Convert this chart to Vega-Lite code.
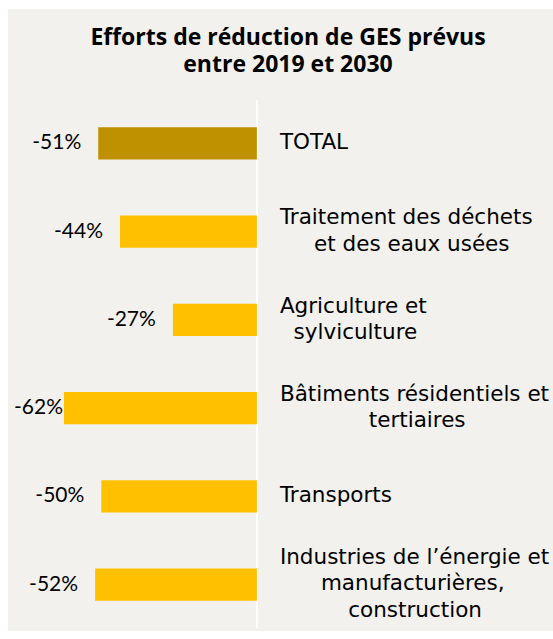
{
  "$schema": "https://vega.github.io/schema/vega-lite/v6.json",
  "autosize": "none",
  "width": 545,
  "height": 622,
  "padding": {"left": 8, "top": 9, "right": 0, "bottom": 8},
  "background": "#ffffff",
  "config": {"view": {"fill": "#f2f1ed", "stroke": null}},
  "title": {
    "text": ["Efforts de réduction de GES prévus", "entre 2019 et 2030"],
    "font": "Open Sans",
    "fontSize": 23,
    "fontWeight": "bold",
    "color": "#000000",
    "anchor": "middle",
    "frame": "group",
    "baseline": "alphabetic",
    "offset": -86,
    "lineHeight": 26.6,
    "dx": 7.5
  },
  "data": {
    "values": [
      {"secteur": "TOTAL", "lignes": ["TOTAL"], "valeur": -51, "etiquette": "-51%", "type": "total"},
      {"secteur": "Traitement des déchets et des eaux usées", "lignes": ["Traitement des déchets", "\u200b\u00a0\u00a0\u00a0\u00a0\u00a0et des eaux usées"], "valeur": -44, "etiquette": "-44%", "type": "secteur"},
      {"secteur": "Agriculture et sylviculture", "lignes": ["Agriculture et", "\u200b\u00a0\u00a0sylviculture"], "valeur": -27, "etiquette": "-27%", "type": "secteur"},
      {"secteur": "Bâtiments résidentiels et tertiaires", "lignes": ["Bâtiments résidentiels et", "\u200b\u00a0\u00a0\u00a0\u00a0\u00a0\u00a0\u00a0\u00a0\u00a0\u00a0\u00a0\u00a0\u00a0tertiaires"], "valeur": -62, "etiquette": "-62%", "type": "secteur"},
      {"secteur": "Transports", "lignes": ["Transports"], "valeur": -50, "etiquette": "-50%", "type": "secteur"},
      {"secteur": "Industries de l’énergie et manufacturières, construction", "lignes": ["Industries de l’énergie et", "\u200b\u00a0\u00a0\u00a0\u00a0\u00a0\u00a0manufacturières,", "\u200b\u00a0\u00a0\u00a0\u00a0\u00a0\u00a0\u00a0\u00a0\u00a0\u00a0construction"], "valeur": -52, "etiquette": "-52%", "type": "secteur"}
    ]
  },
  "layer": [
    {
      "data": {"values": [{}]},
      "mark": {"type": "rule", "color": "#ffffff", "strokeWidth": 2},
      "encoding": {
        "x": {"datum": 0, "type": "quantitative", "scale": {"domain": [-80, 95.18], "nice": false, "zero": false}, "axis": null},
        "y": {"datum": 0, "type": "quantitative", "scale": {"domain": [0, 1], "range": [91, 619], "nice": false}, "axis": null},
        "y2": {"datum": 1}
      }
    },
    {
      "encoding": {
        "y": {"field": "secteur", "type": "nominal", "sort": null, "axis": null,
              "scale": {"range": [91, 619], "paddingInner": 0.636, "paddingOuter": 0.31}}
      },
      "layer": [
        {
          "mark": {"type": "bar"},
          "encoding": {
            "x": {"field": "valeur", "type": "quantitative"},
            "color": {"field": "type", "type": "nominal", "legend": null,
                      "scale": {"domain": ["total", "secteur"], "range": ["#bf9000", "#ffc000"]}}
          }
        },
        {
          "transform": [{"filter": "datum.valeur > -60"}],
          "mark": {"type": "text", "align": "right", "baseline": "middle", "dx": -17, "font": "Lato", "fontSize": 21, "color": "#000000"},
          "encoding": {
            "x": {"field": "valeur", "type": "quantitative"},
            "text": {"field": "etiquette"}
          }
        },
        {
          "transform": [{"filter": "datum.valeur <= -60"}],
          "mark": {"type": "text", "align": "right", "baseline": "middle", "dx": -1, "font": "Lato", "fontSize": 21, "color": "#000000"},
          "encoding": {
            "x": {"field": "valeur", "type": "quantitative"},
            "text": {"field": "etiquette"}
          }
        },
        {
          "transform": [{"filter": "length(datum.lignes) == 1"}],
          "mark": {"type": "text", "align": "left", "baseline": "middle", "dx": 23, "font": "DejaVu Sans", "fontSize": 21.5, "lineHeight": 26.5, "color": "#000000"},
          "encoding": {
            "x": {"datum": 0, "type": "quantitative"},
            "text": {"field": "lignes"}
          }
        },
        {
          "transform": [{"filter": "length(datum.lignes) == 2"}],
          "mark": {"type": "text", "align": "left", "baseline": "middle", "dx": 23, "dy": -13.25, "font": "DejaVu Sans", "fontSize": 21.5, "lineHeight": 26.5, "color": "#000000"},
          "encoding": {
            "x": {"datum": 0, "type": "quantitative"},
            "text": {"field": "lignes"}
          }
        },
        {
          "transform": [{"filter": "length(datum.lignes) == 3"}],
          "mark": {"type": "text", "align": "left", "baseline": "middle", "dx": 23, "dy": -27, "font": "DejaVu Sans", "fontSize": 21.5, "lineHeight": 26.5, "color": "#000000"},
          "encoding": {
            "x": {"datum": 0, "type": "quantitative"},
            "text": {"field": "lignes"}
          }
        }
      ]
    }
  ],
  "resolve": {"scale": {"y": "independent"}}
}
